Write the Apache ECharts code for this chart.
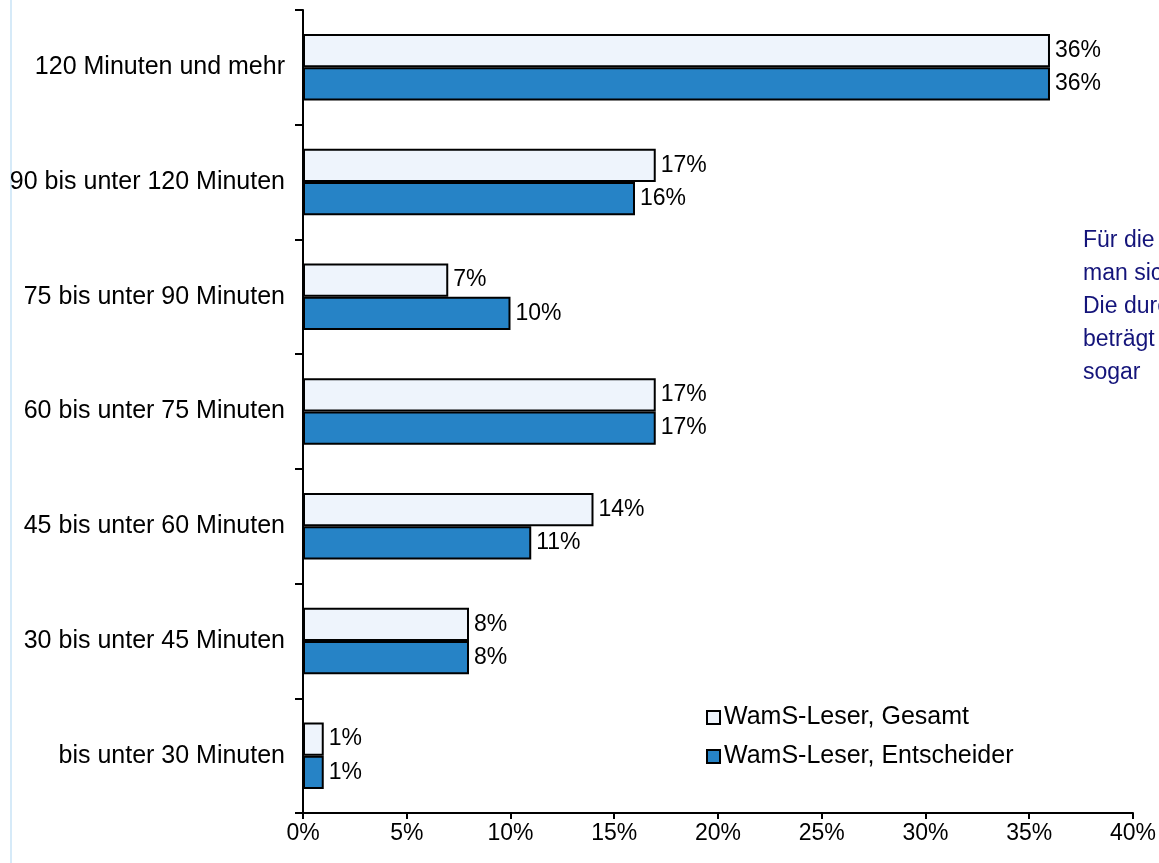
<!DOCTYPE html>
<html>
<head>
<meta charset="utf-8">
<script src="https://cdn.jsdelivr.net/npm/echarts@6/dist/echarts.min.js"></script>
<style>
  html, body { margin: 0; padding: 0; background: #fff; }
  #chart { width: 1159px; height: 863px; }
</style>
</head>
<body>
<div id="chart"></div>
<script>
// Kategorien von unten nach oben
var categories = [
    'bis unter 30 Minuten',
    '30 bis unter 45 Minuten',
    '45 bis unter 60 Minuten',
    '60 bis unter 75 Minuten',
    '75 bis unter 90 Minuten',
    '90 bis unter 120 Minuten',
    '120 Minuten und mehr'
];
var gesamt = [1, 8, 14, 17, 7, 17, 36];
var entscheider = [1, 8, 11, 17, 10, 16, 36];
var seriesNames = ['WamS-Leser, Gesamt', 'WamS-Leser, Entscheider'];
var sideText = ['Für die', 'man sich', 'Die durch', 'beträgt', 'sogar'];

var font = 'Arial, "Liberation Sans", sans-serif';

var chart = echarts.init(document.getElementById('chart'));
var labelStyle = {
    show: true,
    position: 'right',
    distance: 5,
    color: '#000',
    fontSize: 23,
    fontFamily: font,
    formatter: '{c}%'
};

var option = {
    animation: false,
    textStyle: { fontFamily: font },
    grid: { left: 303, right: 26, top: 10, bottom: 50 },
    legend: {
        data: seriesNames,
        orient: 'vertical',
        left: 701,
        top: 700,
        icon: 'rect',
        itemWidth: 13,
        itemHeight: 13,
        itemGap: 14,
        textStyle: { fontSize: 25, color: '#000', fontFamily: font, padding: [0, 0, 0, -1] }
    },
    xAxis: {
        type: 'value',
        min: 0,
        max: 40,
        interval: 5,
        splitLine: { show: false },
        axisLine: { show: true, lineStyle: { color: '#000', width: 2 } },
        axisTick: { show: true, length: 6, lineStyle: { color: '#000', width: 2 } },
        axisLabel: { fontSize: 23, color: '#000', margin: 9, formatter: '{value}%' }
    },
    yAxis: {
        type: 'category',
        data: categories,
        axisLine: { show: true, lineStyle: { color: '#000', width: 2 } },
        axisTick: { show: true, length: 8, lineStyle: { color: '#000', width: 2 } },
        axisLabel: { fontSize: 25, color: '#000', margin: 18 }
    },
    series: [{
        name: seriesNames[0],
        type: 'bar',
        data: gesamt,
        barGap: '0%',
        barCategoryGap: '42%',
        itemStyle: { color: '#eef4fc', borderColor: '#000', borderWidth: 2 },
        label: labelStyle
    }, {
        name: seriesNames[1],
        type: 'bar',
        data: entscheider,
        barGap: '0%',
        barCategoryGap: '42%',
        itemStyle: { color: '#2683c6', borderColor: '#000', borderWidth: 2 },
        label: labelStyle
    }],
    graphic: [{
        type: 'line',
        shape: { x1: 11, y1: 0, x2: 11, y2: 863 },
        style: { stroke: '#d6eaf8', lineWidth: 2 }
    }].concat(sideText.map(function (t, i) {
        return {
            type: 'text',
            left: 1083,
            top: 229 + i * 33,
            style: { text: t, fill: '#14147a', fontSize: 23, fontFamily: font }
        };
    }))
};
chart.setOption(option);
</script>
</body>
</html>
